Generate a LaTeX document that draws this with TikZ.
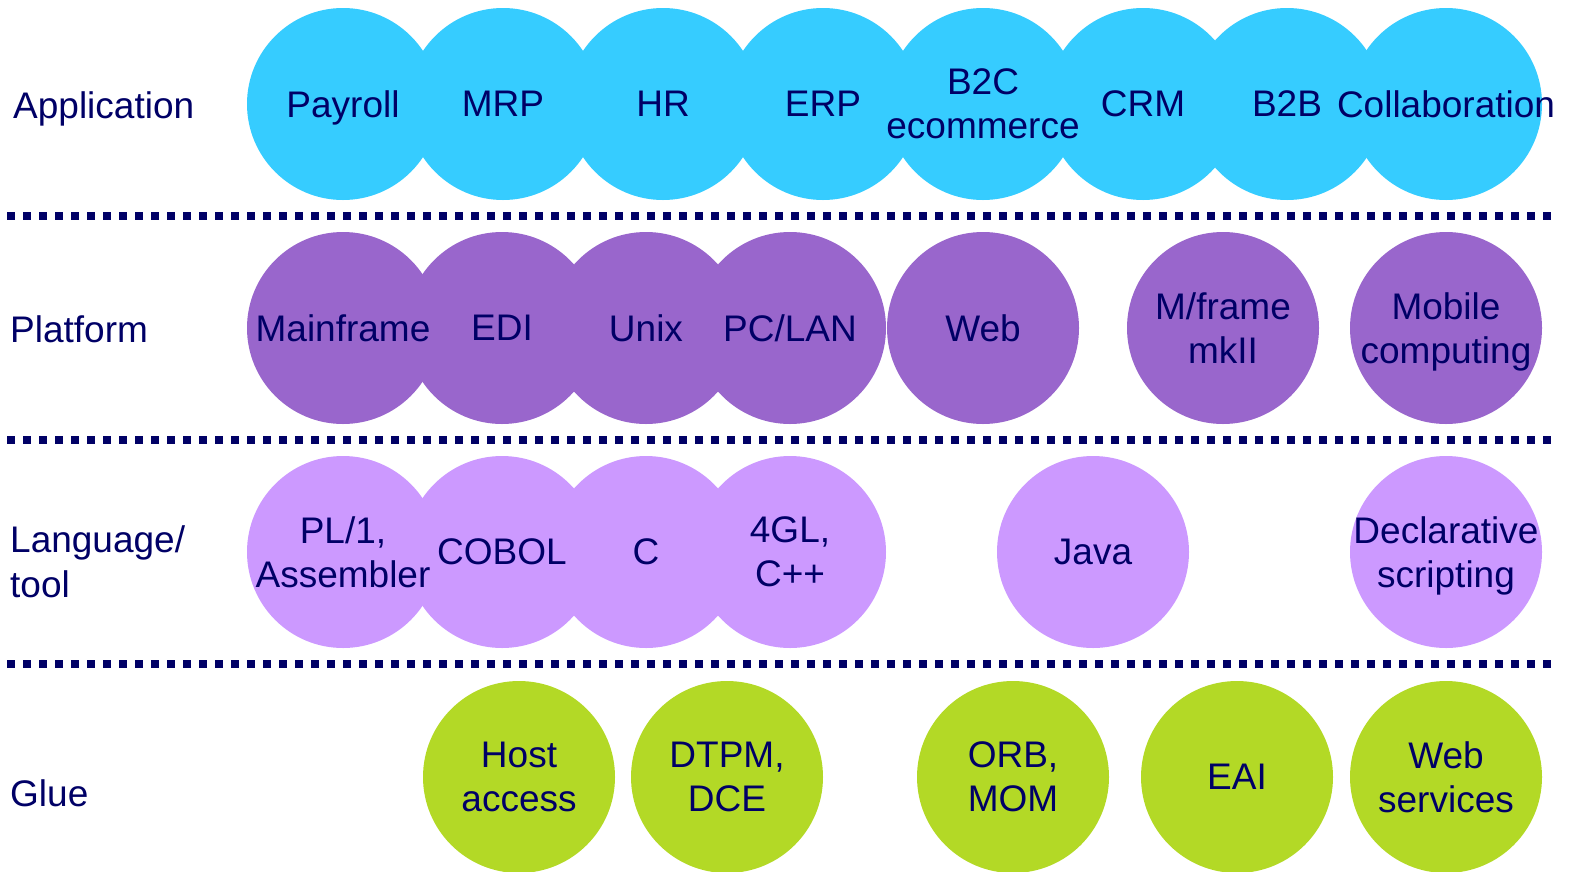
\documentclass[tikz,border=0pt]{standalone}
\usepackage{fontspec}
\setmainfont{Liberation Sans}
\definecolor{navy}{HTML}{000066}
\definecolor{appc}{HTML}{36CCFF}
\definecolor{platc}{HTML}{9966CC}
\definecolor{langc}{HTML}{CC99FF}
\definecolor{gluec}{HTML}{B3D926}
\tikzset{
  bub/.style={circle, minimum size=192pt, inner sep=0pt, draw=none},
  app/.style={bub, fill=appc},
  plat/.style={bub, fill=platc},
  lang/.style={bub, fill=langc},
  glue/.style={bub, fill=gluec},
  txt/.style={inner sep=0pt, text=navy, align=center, text depth=0pt,
    font=\fontsize{37}{44}\selectfont},
  rowlabel/.style={inner sep=0pt, text=navy, anchor=base west, align=left,
    font=\fontsize{37}{45}\selectfont},
  sep/.style={draw=navy, line width=8pt, dash pattern=on 8pt off 8pt}
}
\begin{document}
\begin{tikzpicture}[x=1pt,y=-1pt]
\useasboundingbox (0,0) rectangle (1571,871);
% separators
\coordinate (s1a) at (7,216);  \coordinate (s1b) at (1553,216);
\coordinate (s2a) at (7,440);  \coordinate (s2b) at (1553,440);
\coordinate (s3a) at (7,664);  \coordinate (s3b) at (1553,664);
\draw[sep] (s1a) -- (s1b);
\draw[sep] (s2a) -- (s2b);
\draw[sep] (s3a) -- (s3b);
% application row
\node[app] (a1) at (343,104) {};
\node[app] (a2) at (503,104) {};
\node[app] (a3) at (663,104) {};
\node[app] (a4) at (823,104) {};
\node[app] (a5) at (983,104) {};
\node[app] (a6) at (1143,104) {};
\node[app] (a7) at (1287,104) {};
\node[app] (a8) at (1446,104) {};
% platform row
\node[plat] (p1) at (343,328) {};
\node[plat] (p2) at (502,328) {};
\node[plat] (p3) at (646,328) {};
\node[plat] (p4) at (790,328) {};
\node[plat] (p5) at (983,328) {};
\node[plat] (p6) at (1223,328) {};
\node[plat] (p7) at (1446,328) {};
% language row
\node[lang] (l1) at (343,552) {};
\node[lang] (l2) at (502,552) {};
\node[lang] (l3) at (646,552) {};
\node[lang] (l4) at (790,552) {};
\node[lang] (l5) at (1093,552) {};
\node[lang] (l6) at (1446,552) {};
% glue row
\node[glue] (g1) at (519,777) {};
\node[glue] (g2) at (727,777) {};
\node[glue] (g3) at (1013,777) {};
\node[glue] (g4) at (1237,777) {};
\node[glue] (g5) at (1446,777) {};
% texts
\node[txt] (a1t) at (a1) {Payroll};
\node[txt] (a2t) at (a2) {MRP};
\node[txt] (a3t) at (a3) {HR};
\node[txt] (a4t) at (a4) {ERP};
\node[txt] (a5t) at (a5) {B2C\\ecommerce};
\node[txt] (a6t) at (a6) {CRM};
\node[txt] (a7t) at (a7) {B2B};
\node[txt] (a8t) at (a8) {Collaboration};
\node[txt] (p1t) at (p1) {Mainframe};
\node[txt] (p2t) at (p2) {EDI};
\node[txt] (p3t) at (p3) {Unix};
\node[txt] (p4t) at (p4) {PC/LAN};
\node[txt] (p5t) at (p5) {Web};
\node[txt] (p6t) at (p6) {M/frame\\mkII};
\node[txt] (p7t) at (p7) {Mobile\\computing};
\node[txt] (l1t) at (l1) {PL/1,\\Assembler};
\node[txt] (l2t) at (l2) {COBOL};
\node[txt] (l3t) at (l3) {C};
\node[txt] (l4t) at (l4) {4GL,\\C++};
\node[txt] (l5t) at (l5) {Java};
\node[txt] (l6t) at (l6) {Declarative\\scripting};
\node[txt] (g1t) at (g1) {Host\\access};
\node[txt] (g2t) at (g2) {DTPM,\\DCE};
\node[txt] (g3t) at (g3) {ORB,\\MOM};
\node[txt] (g4t) at (g4) {EAI};
\node[txt] (g5t) at (g5) {Web\\services};
% row labels
\node[rowlabel] (lab1) at (13,118) {Application};
\node[rowlabel] (lab2) at (10,342) {Platform};
\node[rowlabel] (lab3) at (10,597) {Language/\\tool};
\node[rowlabel] (lab4) at (10,806) {Glue};
\end{tikzpicture}
\end{document}
